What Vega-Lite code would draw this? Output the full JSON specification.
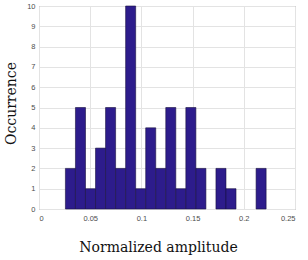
{
  "$schema": "https://vega.github.io/schema/vega-lite/v6.json",
  "autosize": "none",
  "width": 256,
  "height": 203,
  "padding": {"left": 39, "top": 6, "right": 13, "bottom": 51},
  "background": "white",
  "config": {
    "view": {"stroke": "#8a8a8a", "strokeWidth": 1},
    "axis": {
      "labelFont": "Liberation Sans",
      "labelFontSize": 7.5,
      "labelColor": "#4d4d4d",
      "gridColor": "#e3e3e3",
      "gridWidth": 1,
      "domain": false,
      "tickColor": "#8a8a8a",
      "tickSize": 0,
      "titleFont": "DejaVu Serif",
      "titleFontSize": 14,
      "titleFontWeight": "normal",
      "titleColor": "#111111"
    }
  },
  "data": {
    "values": [
      {"start": 0.0258, "end": 0.0356, "count": 2},
      {"start": 0.0356, "end": 0.0454, "count": 5},
      {"start": 0.0454, "end": 0.0552, "count": 1},
      {"start": 0.0552, "end": 0.0650, "count": 3},
      {"start": 0.0650, "end": 0.0748, "count": 5},
      {"start": 0.0748, "end": 0.0846, "count": 2},
      {"start": 0.0846, "end": 0.0944, "count": 10},
      {"start": 0.0944, "end": 0.1042, "count": 1},
      {"start": 0.1042, "end": 0.1140, "count": 4},
      {"start": 0.1140, "end": 0.1238, "count": 2},
      {"start": 0.1238, "end": 0.1336, "count": 5},
      {"start": 0.1336, "end": 0.1434, "count": 1},
      {"start": 0.1434, "end": 0.1532, "count": 5},
      {"start": 0.1532, "end": 0.1630, "count": 2},
      {"start": 0.1630, "end": 0.1728, "count": 0},
      {"start": 0.1728, "end": 0.1826, "count": 2},
      {"start": 0.1826, "end": 0.1924, "count": 1},
      {"start": 0.1924, "end": 0.2022, "count": 0},
      {"start": 0.2022, "end": 0.2120, "count": 0},
      {"start": 0.2120, "end": 0.2218, "count": 2}
    ]
  },
  "transform": [{"filter": "datum.count > 0"}],
  "mark": {"type": "rect", "fill": "#2d1c8c", "stroke": "#1a1040", "strokeWidth": 0.6},
  "encoding": {
    "x": {
      "field": "start",
      "type": "quantitative",
      "scale": {"domain": [0, 0.25], "nice": false, "zero": false},
      "axis": {
        "values": [0, 0.05, 0.1, 0.15, 0.2, 0.25],
        "labelExpr": "datum.value == 0 ? '0' : format(datum.value, '.2~f')",
        "title": "Normalized amplitude",
        "titleX": 119,
        "titleY": 42,
        "titleBaseline": "alphabetic",
        "labelPadding": 5
      }
    },
    "x2": {"field": "end"},
    "y": {
      "field": "count",
      "type": "quantitative",
      "scale": {"domain": [0, 10], "nice": false},
      "axis": {
        "values": [0, 1, 2, 3, 4, 5, 6, 7, 8, 9, 10],
        "title": "Occurrence",
        "titleX": -24,
        "titleY": 97,
        "titleBaseline": "alphabetic",
        "labelPadding": 4
      }
    },
    "y2": {"datum": 0}
  }
}
